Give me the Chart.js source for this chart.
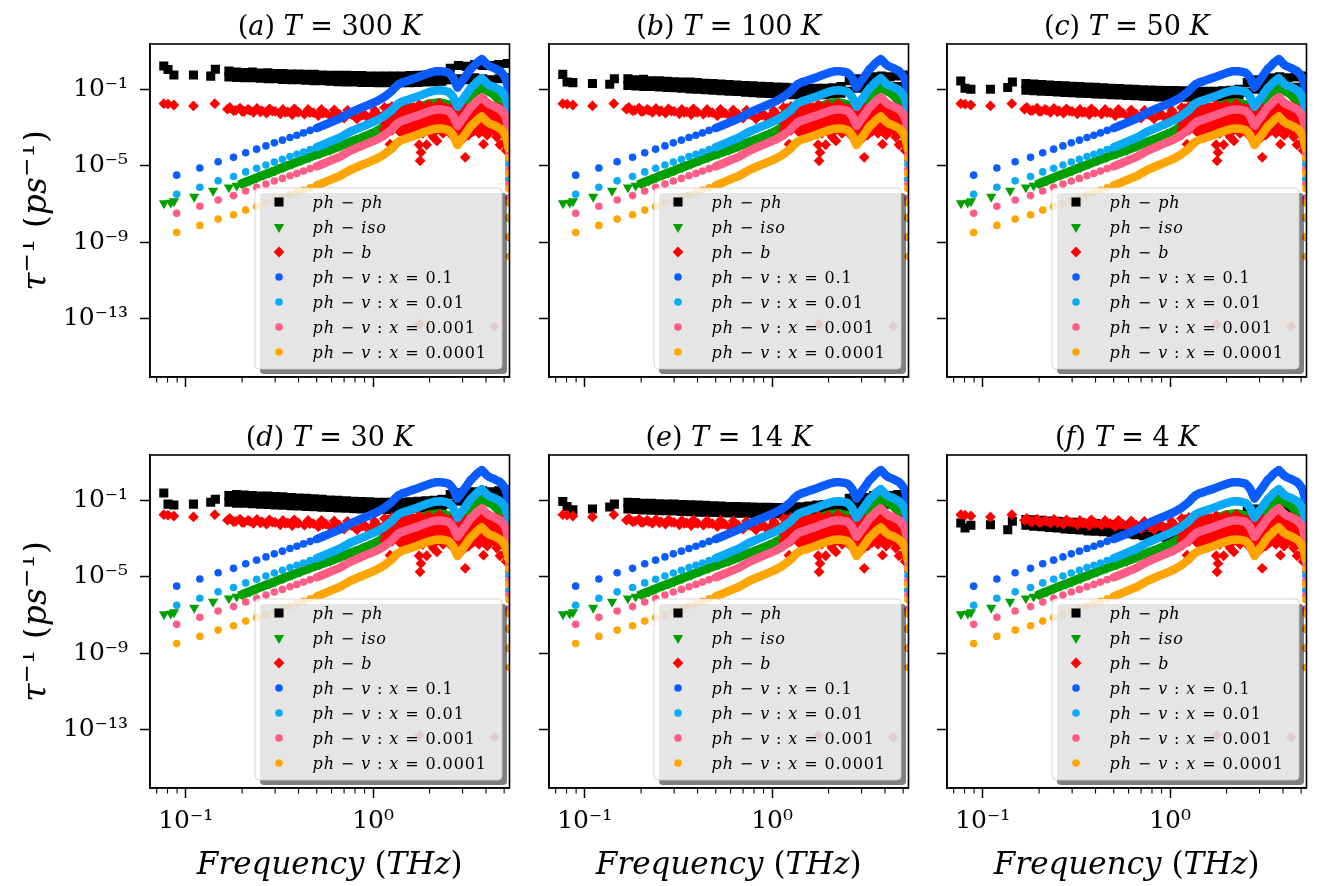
<!DOCTYPE html>
<html><head><meta charset="utf-8">
<title>Phonon scattering rates</title>
<script src="https://cdn.jsdelivr.net/npm/chart.js@4.4.1/dist/chart.umd.min.js"></script>
<style>
html,body{margin:0;padding:0;background:#ffffff;}
body{width:1327px;height:886px;position:relative;overflow:hidden;}
canvas{position:absolute;}
</style></head>
<body>
<script>
// ================= DATA (rates stored as log10 of tau^-1 in ps^-1) =================
const panelTitles = ['(a) T = 300 K','(b) T = 100 K','(c) T = 50 K','(d) T = 30 K','(e) T = 14 K','(f) T = 4 K'];
const seriesLabels = ['ph − ph','ph − iso','ph − b','ph − v : x = 0.1','ph − v : x = 0.01','ph − v : x = 0.001','ph − v : x = 0.0001'];
const seriesColors = ['#000000','#00a000','#ff0000','#0a5cff','#0aaaf8','#ff5c85','#ffa500'];
const xLabel = 'Frequency (THz)';
const yLabel = 'τ^{−1} (ps^{−1})';
const xTickValues = [0.1, 1];
const xTickLabels = ['10⁻¹','10⁰'];
const xMinorTicks = [0.07,0.08,0.09,0.2,0.3,0.4,0.5,0.6,0.7,0.8,0.9,2,3,4,5];
const yTickValues = [1e-13, 1e-9, 1e-5, 1e-1];
const yTickLabels = ['10⁻¹³','10⁻⁹','10⁻⁵','10⁻¹'];
const xMin = 0.0645, xMax = 5.34;
const yMinExp = -16.05, yMaxExp = 1.37;

// ph-v (vacancy) scattering, four concentrations
const vFreq = [0.0895,0.119,0.149,0.180,0.209,0.239,0.268,0.297,0.328,0.360,
  0.392,0.425,0.461,0.500,0.545,0.589,0.667,0.754,0.85,0.963,
  1.05,1.135,1.20,1.259,1.31,1.365,1.43,1.513,1.60,1.711,
  1.86,2.014,2.15,2.28,2.40,2.52,2.60,2.68,2.75,2.82,
  2.90,2.98,3.10,3.20,3.30,3.45,3.58,3.70,3.80,3.92,
  4.05,4.20,4.39,4.55,4.76,4.92,5.07,5.18,5.28,5.29,
  5.29,5.30,5.30,5.30,5.31,5.31];
const vLog1e1 = [-5.49,-5.12,-4.79,-4.56,-4.32,-4.13,-3.96,-3.80,-3.66,-3.52,
  -3.40,-3.28,-3.15,-3.03,-2.88,-2.74,-2.52,-2.22,-2.00,-1.78,
  -1.62,-1.43,-1.25,-1.09,-0.90,-0.74,-0.64,-0.57,-0.48,-0.39,
  -0.25,-0.13,-0.06,-0.05,-0.08,-0.13,-0.25,-0.42,-0.68,-0.91,
  -0.75,-0.57,-0.35,-0.15,0.04,0.22,0.39,0.50,0.58,0.45,
  0.30,0.20,0.13,0.05,-0.05,-0.20,-0.39,-0.70,-1.09,-1.60,
  -2.40,-3.20,-3.95,-4.70,-5.70,-6.75];
const vLog1e2 = [-6.49,-6.12,-5.79,-5.56,-5.32,-5.13,-4.96,-4.80,-4.66,-4.52,
  -4.40,-4.28,-4.15,-4.03,-3.88,-3.74,-3.52,-3.22,-3.00,-2.78,
  -2.62,-2.43,-2.25,-2.09,-1.90,-1.74,-1.64,-1.57,-1.48,-1.39,
  -1.25,-1.13,-1.06,-1.05,-1.08,-1.13,-1.25,-1.42,-1.68,-1.91,
  -1.75,-1.57,-1.35,-1.15,-0.96,-0.78,-0.61,-0.50,-0.42,-0.55,
  -0.70,-0.80,-0.87,-0.95,-1.05,-1.20,-1.39,-1.70,-2.09,-2.60,
  -3.40,-4.20,-4.95,-5.70,-6.70,-7.75];
const vLog1e3 = [-7.49,-7.12,-6.79,-6.56,-6.32,-6.13,-5.96,-5.80,-5.66,-5.52,
  -5.40,-5.28,-5.15,-5.03,-4.88,-4.74,-4.52,-4.22,-4.00,-3.78,
  -3.62,-3.43,-3.25,-3.09,-2.90,-2.74,-2.64,-2.57,-2.48,-2.39,
  -2.25,-2.13,-2.06,-2.05,-2.08,-2.13,-2.25,-2.42,-2.68,-2.91,
  -2.75,-2.57,-2.35,-2.15,-1.96,-1.78,-1.61,-1.50,-1.42,-1.55,
  -1.70,-1.80,-1.87,-1.95,-2.05,-2.20,-2.39,-2.70,-3.09,-3.60,
  -4.40,-5.20,-5.95,-6.70,-7.70,-8.75];
const vLog1e4 = [-8.49,-8.12,-7.79,-7.56,-7.32,-7.13,-6.96,-6.80,-6.66,-6.52,
  -6.40,-6.28,-6.15,-6.03,-5.88,-5.74,-5.52,-5.22,-5.00,-4.78,
  -4.62,-4.43,-4.25,-4.09,-3.90,-3.74,-3.64,-3.57,-3.48,-3.39,
  -3.25,-3.13,-3.06,-3.05,-3.08,-3.13,-3.25,-3.42,-3.68,-3.91,
  -3.75,-3.57,-3.35,-3.15,-2.96,-2.78,-2.61,-2.50,-2.42,-2.55,
  -2.70,-2.80,-2.87,-2.95,-3.05,-3.20,-3.39,-3.70,-4.09,-4.60,
  -5.40,-6.20,-6.95,-7.70,-8.70,-9.75];

// ph-iso (isotope) scattering
const isoFreq = [0.0766,0.0832,0.0866,0.111,0.140,0.170,0.187,0.20,0.22,0.24,
  0.26,0.28,0.30,0.332,0.37,0.41,0.46,0.52,0.589,0.667,
  0.754,0.85,0.93,1.009,1.135,1.259,1.365,1.513,1.711,2.014,
  2.28,2.52,2.68,2.82,2.98,3.30,3.58,3.80,4.05,4.39,
  4.76,5.07,5.28];
const isoLog = [-6.96,-6.93,-6.86,-6.62,-6.31,-6.13,-6.04,-5.93,-5.77,-5.62,
  -5.48,-5.37,-5.25,-5.08,-4.90,-4.73,-4.54,-4.36,-4.18,-3.97,
  -3.76,-3.57,-3.41,-3.26,-3.00,-2.70,-2.35,-2.15,-1.98,-1.75,
  -1.69,-1.80,-2.05,-2.50,-2.20,-1.55,-1.20,-0.91,-1.05,-1.26,
  -1.61,-2.00,-2.80];

// ph-b (boundary) scattering
const bFreq = [0.0764,0.0805,0.0865,0.110,0.143,0.167,0.172,0.185,0.195,0.205,
  0.215,0.23,0.24,0.255,0.27,0.28,0.30,0.32,0.33,0.35,
  0.37,0.38,0.40,0.43,0.45,0.48,0.51,0.53,0.56,0.60,
  0.62,0.66,0.70,0.73,0.77,0.82,0.86,0.91,0.96,1.02,
  1.08,1.15,1.20,1.23,1.23,1.29,1.34,1.38,1.43,1.48,
  1.54,1.59,1.65,1.70,1.76,1.76,1.78,1.80,1.84,1.87,
  1.93,1.98,2.04,2.09,2.14,2.19,2.25,2.31,2.36,2.47,
  2.52,2.58,2.69,2.74,2.82,2.91,3.01,3.10,3.13,3.23,
  3.34,3.45,3.56,3.67,3.78,3.88,3.95,4.06,4.17,4.28,
  4.45,4.56,4.67,4.75,4.84,4.95,5.00,5.06,5.12,5.17,
  1.77,4.43,
  1.15,1.15,1.15,1.15,1.26,1.26,1.26,1.26,1.38,1.38,1.38,1.38,
  1.51,1.51,1.51,1.51,1.65,1.65,1.65,1.65,1.81,1.81,1.81,1.81,
  1.98,1.98,1.98,1.98,2.17,2.17,2.17,2.17,2.38,2.38,2.38,2.38,
  2.60,2.60,2.60,2.60,2.85,2.85,2.85,2.85,3.12,3.12,3.12,3.12,
  3.42,3.42,3.42,3.42,3.74,3.74,3.74,3.74,4.10,4.10,4.10,4.10,
  4.49,4.49,4.49,4.49,4.92,4.92,4.92,4.92,
  1.20,1.20,1.20,1.32,1.32,1.32,1.44,1.44,1.44,1.58,1.58,1.58,
  1.73,1.73,1.73,1.89,1.89,1.89,2.07,2.07,2.07,2.27,2.27,2.27,
  2.49,2.49,2.49,2.72,2.72,2.72,2.98,2.98,2.98,3.27,3.27,3.27,
  3.58,3.58,3.58,3.92,3.92,3.92,4.29,4.29,4.29,4.70,4.70,4.70,
  0.18,0.20,0.22,0.25,0.29,0.34,0.39,0.46,0.54,0.64,0.75,0.88,1.00,1.12];
const bLog = [-1.75,-1.78,-1.82,-1.87,-1.75,-2.04,-1.95,-2.10,-1.98,-2.15,
  -2.05,-2.20,-2.00,-2.12,-2.25,-2.02,-2.15,-2.28,-2.05,-2.18,
  -2.32,-2.02,-2.20,-2.30,-2.05,-2.22,-2.38,-2.05,-2.25,-2.45,
  -2.08,-2.30,-2.50,-2.10,-2.32,-2.55,-2.08,-2.35,-2.60,-2.10,
  -2.40,-2.65,-2.00,-3.00,-3.87,-2.50,-1.85,-2.80,-3.30,-2.20,
  -1.80,-2.60,-3.10,-2.30,-1.80,-3.90,-4.74,-4.30,-3.30,-2.50,
  -3.90,-1.80,-2.90,-3.50,-2.20,-3.70,-1.75,-2.70,-3.30,-2.00,
  -3.00,-2.40,-2.90,-3.50,-3.20,-2.80,-3.60,-4.56,-2.50,-3.40,
  -2.20,-3.00,-1.90,-3.30,-1.60,-3.87,-2.60,-3.40,-2.10,-3.10,
  -2.30,-3.50,-2.00,-3.90,-3.20,-2.50,-3.80,-3.00,-4.20,-2.20,
  -13.3,-13.4,
  -1.95,-2.35,-2.75,-3.10,-1.90,-2.30,-2.70,-3.15,-1.95,-2.40,-2.80,-3.20,
  -1.90,-2.30,-2.75,-3.20,-1.95,-2.35,-2.80,-3.25,-1.90,-2.30,-2.70,-3.20,
  -1.95,-2.35,-2.75,-3.20,-1.90,-2.30,-2.70,-3.15,-1.95,-2.35,-2.80,-3.25,
  -2.00,-2.45,-2.90,-3.35,-2.05,-2.50,-2.95,-3.40,-2.00,-2.40,-2.85,-3.30,
  -1.90,-2.30,-2.75,-3.20,-1.80,-2.25,-2.70,-3.15,-1.85,-2.30,-2.75,-3.20,
  -1.90,-2.35,-2.80,-3.25,-2.00,-2.45,-2.90,-3.35,
  -2.15,-2.55,-2.95,-2.10,-2.50,-2.95,-2.15,-2.55,-3.00,-2.10,-2.55,-3.00,
  -2.15,-2.55,-3.00,-2.10,-2.50,-2.95,-2.15,-2.55,-2.95,-2.10,-2.50,-2.95,
  -2.20,-2.60,-3.05,-2.25,-2.70,-3.15,-2.20,-2.65,-3.10,-2.10,-2.50,-2.95,
  -2.00,-2.45,-2.90,-2.05,-2.50,-2.95,-2.10,-2.55,-3.00,-2.15,-2.60,-3.05,
  -2.12,-2.15,-2.10,-2.18,-2.14,-2.20,-2.16,-2.22,-2.25,-2.30,-2.28,-2.35,-2.30,-2.40];

// ph-ph (three-phonon) scattering: isolated low-frequency points + upper/lower edge of the band
const phLowFreq = [0.0764,0.0805,0.0865,0.110,0.136,0.144];
const phGrid = [0.17,0.187,0.206,0.227,0.25,0.275,0.30,0.33,0.365,0.40,
  0.44,0.485,0.535,0.59,0.65,0.72,0.79,0.87,0.96,1.06,
  1.17,1.29,1.42,1.57,1.73,1.91,2.11,2.33,2.58,2.85,
  3.15,3.48,3.84,4.24,4.68,5.2];
const ph300Low = [0.22,0.04,-0.25,-0.25,-0.31,0.05];
const ph300Hi = [-0.05,-0.10,-0.12,-0.10,-0.15,-0.14,-0.18,-0.17,-0.20,-0.20,-0.22,-0.22,-0.25,-0.26,-0.27,-0.27,-0.28,-0.28,-0.30,-0.30,-0.30,-0.30,-0.30,-0.28,-0.27,-0.25,-0.22,-0.15,0.10,0.25,0.20,0.30,0.25,0.25,0.30,0.35];
const ph300Lo = [-0.35,-0.38,-0.40,-0.40,-0.42,-0.45,-0.45,-0.48,-0.50,-0.50,-0.52,-0.55,-0.55,-0.58,-0.60,-0.62,-0.62,-0.64,-0.64,-0.66,-0.66,-0.66,-0.66,-0.66,-0.64,-0.62,-0.60,-0.58,-0.50,-0.45,-0.50,-0.40,-0.45,-0.50,-0.45,-0.40];
const ph100Low = [-0.22,-0.62,-0.65,-0.70,-0.74,-0.45];
const ph100Hi = [-0.45,-0.50,-0.48,-0.55,-0.55,-0.58,-0.60,-0.62,-0.62,-0.65,-0.68,-0.70,-0.72,-0.75,-0.78,-0.80,-0.82,-0.84,-0.86,-0.88,-0.90,-0.92,-0.94,-0.95,-0.95,-0.95,-0.92,-0.85,-0.55,-0.45,-0.50,-0.35,-0.30,-0.35,-0.30,-0.25];
const ph100Lo = [-0.80,-0.82,-0.85,-0.85,-0.88,-0.90,-0.92,-0.95,-0.98,-1.00,-1.02,-1.05,-1.08,-1.10,-1.12,-1.15,-1.18,-1.20,-1.22,-1.24,-1.26,-1.28,-1.30,-1.30,-1.30,-1.28,-1.25,-1.20,-1.10,-0.95,-0.90,-0.85,-0.90,-0.90,-0.85,-0.80];
const ph50Low = [-0.57,-0.95,-1.00,-1.00,-0.91,-0.62];
const ph50Hi = [-0.70,-0.72,-0.75,-0.78,-0.80,-0.82,-0.84,-0.86,-0.88,-0.90,-0.92,-0.94,-0.96,-0.98,-1.00,-1.02,-1.04,-1.05,-1.06,-1.07,-1.08,-1.09,-1.10,-1.10,-1.10,-1.08,-1.05,-1.00,-0.65,-0.50,-0.55,-0.40,-0.35,-0.40,-0.35,-0.30];
const ph50Lo = [-1.05,-1.08,-1.10,-1.12,-1.14,-1.16,-1.18,-1.20,-1.22,-1.24,-1.26,-1.28,-1.30,-1.32,-1.34,-1.36,-1.38,-1.40,-1.40,-1.42,-1.42,-1.42,-1.42,-1.40,-1.40,-1.38,-1.35,-1.30,-1.15,-1.00,-0.95,-0.90,-0.95,-0.95,-0.90,-0.85];
const ph30Low = [-0.62,-1.20,-1.25,-1.20,-1.10,-0.95];
const ph30Hi = [-0.75,-0.70,-0.72,-0.75,-0.78,-0.78,-0.80,-0.82,-0.85,-0.88,-0.90,-0.92,-0.95,-0.98,-1.00,-1.02,-1.05,-1.07,-1.08,-1.10,-1.10,-1.10,-1.10,-1.08,-1.05,-1.02,-1.00,-0.95,-0.70,-0.60,-0.65,-0.55,-0.50,-0.55,-0.50,-0.45];
const ph30Lo = [-1.10,-1.15,-1.15,-1.18,-1.20,-1.22,-1.24,-1.26,-1.28,-1.30,-1.32,-1.34,-1.36,-1.38,-1.40,-1.42,-1.44,-1.46,-1.46,-1.48,-1.48,-1.48,-1.46,-1.45,-1.42,-1.40,-1.38,-1.35,-1.20,-1.05,-1.00,-0.95,-1.00,-1.00,-0.95,-0.90];
const ph14Low = [-1.06,-1.32,-1.50,-1.45,-1.35,-1.20];
const ph14Hi = [-1.10,-1.12,-1.15,-1.15,-1.18,-1.20,-1.20,-1.22,-1.24,-1.25,-1.26,-1.28,-1.30,-1.32,-1.33,-1.34,-1.35,-1.36,-1.37,-1.38,-1.38,-1.36,-1.34,-1.30,-1.25,-1.22,-1.20,-1.15,-0.90,-0.80,-0.85,-0.75,-0.70,-0.75,-0.70,-0.65];
const ph14Lo = [-1.45,-1.48,-1.50,-1.52,-1.54,-1.55,-1.56,-1.58,-1.60,-1.62,-1.63,-1.64,-1.65,-1.66,-1.67,-1.68,-1.69,-1.70,-1.70,-1.70,-1.70,-1.68,-1.66,-1.63,-1.60,-1.58,-1.55,-1.50,-1.40,-1.25,-1.20,-1.15,-1.20,-1.20,-1.15,-1.10];
const ph4Low = [-2.19,-2.45,-2.30,-2.28,-2.54,-2.10];
const ph4Hi = [-2.00,-2.02,-2.05,-2.08,-2.10,-2.12,-2.15,-2.18,-2.20,-2.22,-2.25,-2.28,-2.30,-2.33,-2.36,-2.38,-2.40,-2.42,-2.44,-2.45,-2.42,-2.38,-2.30,-2.20,-2.05,-1.95,-1.85,-1.75,-1.55,-1.45,-1.50,-1.40,-1.35,-1.40,-1.35,-1.30];
const ph4Lo = [-2.30,-2.35,-2.38,-2.42,-2.45,-2.50,-2.52,-2.55,-2.60,-2.62,-2.65,-2.70,-2.72,-2.75,-2.80,-2.85,-2.88,-2.90,-2.95,-3.00,-2.95,-2.85,-2.70,-2.55,-2.40,-2.30,-2.20,-2.10,-1.95,-1.85,-1.85,-1.75,-1.80,-1.85,-1.80,-1.75];
const phPanels = [
  [ph300Low, ph300Hi, ph300Lo], [ph100Low, ph100Hi, ph100Lo], [ph50Low, ph50Hi, ph50Lo],
  [ph30Low, ph30Hi, ph30Lo], [ph14Low, ph14Hi, ph14Lo], [ph4Low, ph4Hi, ph4Lo]
];

// ================= RENDERING =================
Chart.defaults.color = '#000';
const toPts = (xs, logs) => xs.map((x, i) => ({ x: x, y: Math.pow(10, logs[i]) }));

const PW = 359.5, PH = 333;
const colLeft = [150, 549, 947];
const rowTop = [44, 455];
const AX_L = 127, PAD_R = 13.5, PAD_T = 44, AX_B = 98;
const CW = 500, CH = PAD_T + PH + AX_B;
const FONT = '"DejaVu Serif", "Liberation Serif", serif';

function drawRich(ctx, str, x, y, size, align, spacing) {
  spacing = spacing || 0;
  const pieces = [];
  const re = /\^\{([^}]*)\}/g;
  let last = 0, m;
  while ((m = re.exec(str))) {
    if (m.index > last) pieces.push([str.slice(last, m.index), false]);
    pieces.push([m[1], true]);
    last = re.lastIndex;
  }
  if (last < str.length) pieces.push([str.slice(last), false]);
  const glyphs = [];
  let total = 0;
  for (const [t, sup] of pieces) {
    for (const ch of t) {
      const s = sup ? size * 0.7 : size;
      const font = (/[A-Za-zτ]/.test(ch) ? 'italic ' : '') + s + 'px ' + FONT;
      ctx.font = font;
      const w = ctx.measureText(ch).width + spacing;
      glyphs.push({ ch, font, w, dy: sup ? -size * 0.36 : 0 });
      total += w;
    }
  }
  total -= spacing;
  let cx = align === 'center' ? x - total / 2 : x;
  ctx.textAlign = 'left';
  ctx.textBaseline = 'alphabetic';
  for (const g of glyphs) {
    ctx.font = g.font;
    ctx.fillText(g.ch, cx, y + g.dy);
    cx += g.w;
  }
}

function roundRectPath(ctx, x, y, w, h, r) {
  ctx.beginPath();
  ctx.moveTo(x + r, y);
  ctx.lineTo(x + w - r, y);
  ctx.arcTo(x + w, y, x + w, y + r, r);
  ctx.lineTo(x + w, y + h - r);
  ctx.arcTo(x + w, y + h, x + w - r, y + h, r);
  ctx.lineTo(x + r, y + h);
  ctx.arcTo(x, y + h, x, y + h - r, r);
  ctx.lineTo(x, y + r);
  ctx.arcTo(x, y, x + r, y, r);
  ctx.closePath();
}

const decor = {
  id: 'decor',
  afterDraw(chart, args, o) {
    const ctx = chart.ctx, a = chart.chartArea, sx = chart.scales.x;
    ctx.save();
    ctx.strokeStyle = '#000';
    ctx.lineWidth = 1.6;
    ctx.strokeRect(a.left, a.top, a.right - a.left, a.bottom - a.top);
    ctx.lineWidth = 1.1;
    for (const v of xMinorTicks) {
      const px = sx.getPixelForValue(v);
      if (px < a.left - 0.5 || px > a.right + 0.5) continue;
      ctx.beginPath();
      ctx.moveTo(px, a.bottom);
      ctx.lineTo(px, a.bottom + 5.5);
      ctx.stroke();
    }
    const lx = a.left + 105, ly = a.top + 144, lw = 247, lh = 181;
    ctx.fillStyle = 'rgba(0,0,0,0.5)';
    roundRectPath(ctx, lx + 5, ly + 5, lw, lh, 4);
    ctx.fill();
    ctx.fillStyle = 'rgba(255,255,255,0.8)';
    roundRectPath(ctx, lx, ly, lw, lh, 4);
    ctx.fill();
    ctx.strokeStyle = 'rgba(204,204,204,0.8)';
    ctx.lineWidth = 1;
    ctx.stroke();
    chart.data.datasets.forEach((d, i) => {
      const cy = ly + 14 + 25 * i;
      ctx.fillStyle = seriesColors[i];
      Chart.helpers.drawPoint(ctx, { pointStyle: d.pointStyle, rotation: d.pointRotation || 0, radius: d.pointRadius, borderWidth: 0 }, lx + 24, cy);
      ctx.fillStyle = '#000';
      drawRich(ctx, d.label, lx + 57.5, cy + 5.5, 16, 'left', 0.9);
    });
    ctx.fillStyle = '#000';
    drawRich(ctx, o.title, (a.left + a.right) / 2, a.top - 9, 27, 'center', 0);
    if (o.showX) drawRich(ctx, xLabel, (a.left + a.right) / 2, a.bottom + 85.5, 31, 'center', 0);
    if (o.showY) {
      ctx.translate(a.left - 104, (a.top + a.bottom) / 2);
      ctx.rotate(-Math.PI / 2);
      drawRich(ctx, yLabel, 0, 0, 33, 'center', 0);
    }
    ctx.restore();
  }
};

function baseDs(i, data, ps, r, rot) {
  return {
    label: seriesLabels[i], data: data, order: 6 - i,
    pointStyle: ps, pointRadius: r, pointHoverRadius: r, pointRotation: rot || 0,
    pointBackgroundColor: seriesColors[i], pointBorderWidth: 0, pointHoverBorderWidth: 0,
    borderColor: seriesColors[i], backgroundColor: seriesColors[i], showLine: false
  };
}
function withLine(ds, i, x0, width) {
  ds.showLine = true;
  ds.borderWidth = width;
  ds.borderCapStyle = 'round';
  ds.borderJoinStyle = 'round';
  ds.tension = 0;
  ds.segment = {
    borderColor: c => {
      const s = c.chart.scales.x;
      return (c.p0.x >= s.getPixelForValue(x0) - 0.5 && c.p1.x <= s.getPixelForValue(5.285)) ? seriesColors[i] : 'rgba(0,0,0,0)';
    }
  };
  return ds;
}

panelTitles.forEach((title, k) => {
  const r = Math.floor(k / 3), c = k % 3;
  const cv = document.createElement('canvas');
  cv.width = CW; cv.height = CH;
  cv.style.left = (colLeft[c] - AX_L) + 'px';
  cv.style.top = (rowTop[r] - PAD_T) + 'px';
  cv.style.width = CW + 'px'; cv.style.height = CH + 'px';
  document.body.appendChild(cv);
  const [low, hi, lo] = phPanels[k];
  const datasets = [
    baseDs(0, toPts(phLowFreq, low).concat(toPts(phGrid, hi), toPts(phGrid, lo)), 'rect', 6.4),
    withLine(baseDs(1, toPts(isoFreq, isoLog), 'triangle', 5.9, 180), 1, 0.19, 9),
    baseDs(2, toPts(bFreq, bLog), 'rectRot', 5.4),
    withLine(baseDs(3, toPts(vFreq, vLog1e1), 'circle', 3.8), 3, 0.5, 8.5),
    withLine(baseDs(4, toPts(vFreq, vLog1e2), 'circle', 3.8), 4, 0.5, 8.5),
    withLine(baseDs(5, toPts(vFreq, vLog1e3), 'circle', 3.8), 5, 0.5, 8.5),
    withLine(baseDs(6, toPts(vFreq, vLog1e4), 'circle', 3.8), 6, 0.5, 8.5)
  ];
  new Chart(cv, {
    type: 'scatter',
    data: { datasets: datasets },
    options: {
      responsive: false, animation: false, events: [],
      layout: { padding: { left: 0, right: PAD_R, top: PAD_T, bottom: 0 } },
      plugins: {
        legend: { display: false }, tooltip: { enabled: false },
        decor: { title: title, showX: r === 1, showY: c === 0 }
      },
      scales: {
        x: {
          type: 'logarithmic', position: 'bottom', min: xMin, max: xMax,
          afterBuildTicks: s => { s.ticks = xTickValues.map(v => ({ value: v })); },
          afterFit: s => { s.height = AX_B; },
          ticks: {
            display: r === 1, autoSkip: false, maxRotation: 0, minRotation: 0, padding: 8, color: '#000',
            font: { family: FONT, size: 25 },
            callback: v => { const i = xTickValues.indexOf(v); return i < 0 ? '' : xTickLabels[i]; }
          },
          grid: { drawOnChartArea: false, drawTicks: true, tickLength: 10, tickWidth: 1.5, tickColor: '#000' },
          border: { display: true, color: '#000', width: 1.6 },
          title: { display: false }
        },
        y: {
          type: 'logarithmic', position: 'left', min: Math.pow(10, yMinExp), max: Math.pow(10, yMaxExp),
          afterBuildTicks: s => { s.ticks = yTickValues.map(v => ({ value: v })); },
          afterFit: s => { s.width = AX_L; },
          ticks: {
            display: c === 0, autoSkip: false, padding: 12, color: '#000',
            font: { family: FONT, size: 25 },
            callback: v => { const i = yTickValues.indexOf(v); return i < 0 ? '' : yTickLabels[i]; }
          },
          grid: { drawOnChartArea: false, drawTicks: true, tickLength: 10, tickWidth: 1.5, tickColor: '#000' },
          border: { display: true, color: '#000', width: 1.6 },
          title: { display: false }
        }
      }
    },
    plugins: [decor]
  });
});
</script>
</body></html>
